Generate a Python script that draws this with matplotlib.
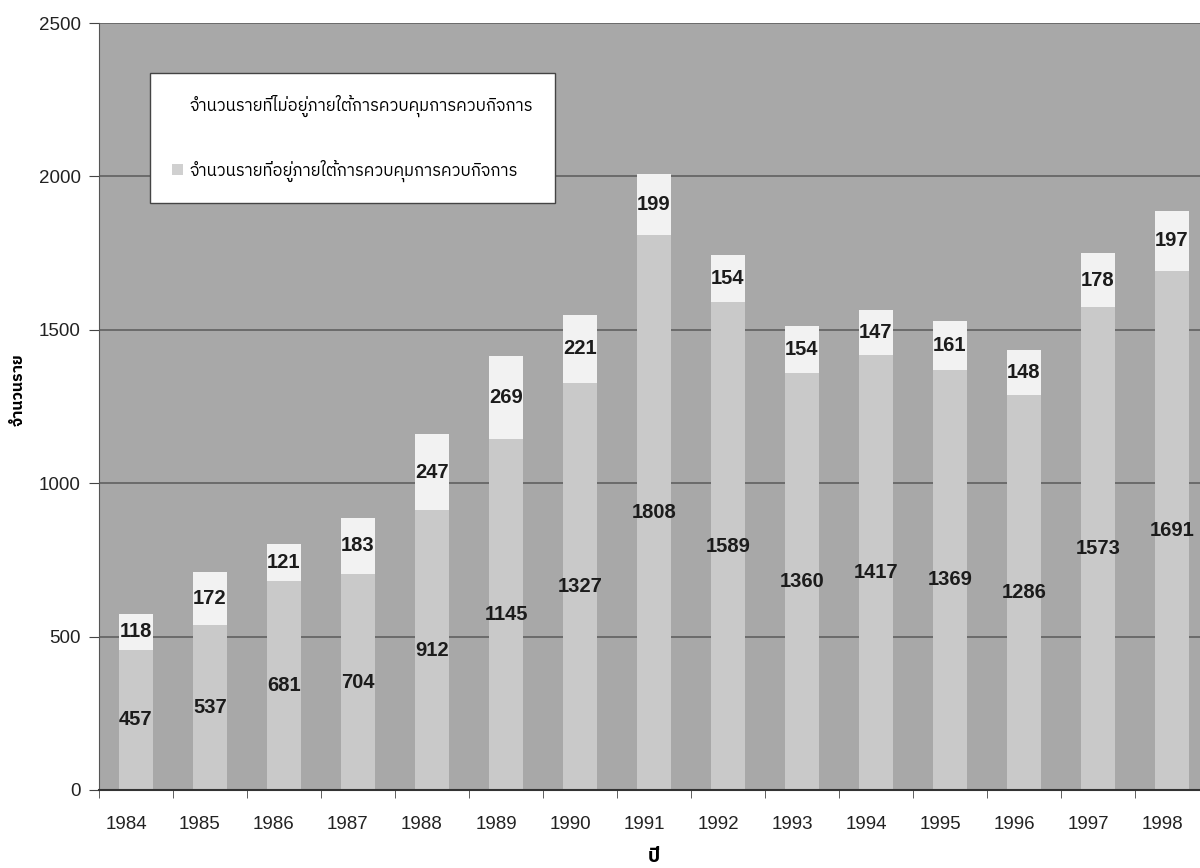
import matplotlib
matplotlib.use("Agg")
import matplotlib.pyplot as plt
import matplotlib.transforms as mtransforms
from matplotlib import font_manager
from matplotlib.ft2font import FT2Font
from matplotlib.patches import Patch
import numpy as np

years = ["1984", "1985", "1986", "1987", "1988", "1989", "1990", "1991",
         "1992", "1993", "1994", "1995", "1996", "1997", "1998"]
under_control = [457, 537, 681, 704, 912, 1145, 1327, 1808, 1589, 1360, 1417, 1369, 1286, 1573, 1691]
not_under_control = [118, 172, 121, 183, 247, 269, 221, 199, 154, 154, 147, 161, 148, 178, 197]

label_not = "จำนวนรายที่ไม่อยู่ภายใต้การควบคุมการควบกิจการ"
label_under = "จำนวนรายที่อยู่ภายใต้การควบคุมการควบกิจการ"
ylabel = "จำนวนราย"
xlabel = "ปี"
yticks = [0, 500, 1000, 1500, 2000, 2500]

# find a font with Thai glyphs
thai_fonts = []
for f in font_manager.fontManager.ttflist:
    try:
        ft = FT2Font(f.fname)
        if ft.get_char_index(0x0E08) and f.name not in thai_fonts:
            thai_fonts.append(f.name)
    except Exception:
        pass
pref = [n for n in thai_fonts if "Sans" in n] + thai_fonts
thai_family = [pref[0], "DejaVu Sans"] if pref else ["DejaVu Sans"]

plt.rcParams['font.family'] = ['Liberation Sans', 'DejaVu Sans']

fig = plt.figure(figsize=(12, 8.68), dpi=100)
fig.patch.set_facecolor("white")
ax = fig.add_axes([99/1200, 1 - 790/868, 1110/1200, 767/868])
ax.set_facecolor("#a8a8a8")

x = np.arange(len(years))
w = 0.45
ax.bar(x, under_control, width=w, color="#c9c9c9", zorder=2)
ax.bar(x, not_under_control, width=w, bottom=under_control, color="#f2f2f2", zorder=2)

for i in range(len(years)):
    ax.text(x[i], under_control[i] / 2, str(under_control[i]), ha="center", va="center",
            fontsize=14.5, fontweight="bold", color="#1c1c1c", zorder=3)
    ax.text(x[i], under_control[i] + not_under_control[i] / 2, str(not_under_control[i]),
            ha="center", va="center", fontsize=14.5, fontweight="bold", color="#1c1c1c", zorder=3)

ax.set_xlim(-0.5, len(years) - 0.5)
ax.set_ylim(0, 2500)
ax.set_yticks(yticks)
ax.set_yticklabels([str(v) for v in yticks], fontsize=13.5, color="#222222")
ax.yaxis.grid(True, color="#666666", linewidth=1.3, zorder=1)
ax.set_axisbelow(True)

ax.set_xticks(x)
ax.set_xticklabels(years, fontsize=13.5, color="#222222")
ax.set_xticks(np.arange(-0.5, len(years)), minor=True)
ax.tick_params(axis="x", which="major", length=0, pad=19)
ax.tick_params(axis="x", which="minor", length=6, color="#444444")
ax.tick_params(axis="y", length=7, color="#444444", pad=6)
offset = mtransforms.ScaledTranslation(-10/100, 0, fig.dpi_scale_trans)
for lbl in ax.get_xticklabels():
    lbl.set_transform(lbl.get_transform() + offset)

for s in ["top", "right"]:
    ax.spines[s].set_visible(False)
ax.spines["left"].set_color("#555555")
ax.spines["bottom"].set_color("#333333")
ax.spines["bottom"].set_linewidth(1.5)

ax.set_ylabel(ylabel, fontsize=11.5, fontweight="bold", family=thai_family)
ax.yaxis.label.set_va("center")
ax.yaxis.set_label_coords((18 - 99) / 1110, (790 - 390) / 767)
ax.set_xlabel(xlabel, fontsize=14, fontweight="bold", family=thai_family)
ax.xaxis.label.set_va("center")
ax.xaxis.set_label_coords(0.5, -(857 - 790) / 767)

handles = [Patch(facecolor="#ffffff", edgecolor="none"), Patch(facecolor="#d0d0d0", edgecolor="none")]
leg = ax.legend(handles, [label_not, label_under], loc="upper left",
                bbox_to_anchor=(51/1110, 1 - 50/767), prop={"family": thai_family, "size": 12},
                frameon=True, fancybox=False, facecolor="white", edgecolor="#444444",
                framealpha=1, labelspacing=2.55, handlelength=0.7, handleheight=0.7,
                handletextpad=0.4, borderpad=1.3, borderaxespad=0)
leg.get_frame().set_linewidth(1.0)
leg.set_zorder(5)

fig.savefig("out.png", dpi=100, facecolor="white")
